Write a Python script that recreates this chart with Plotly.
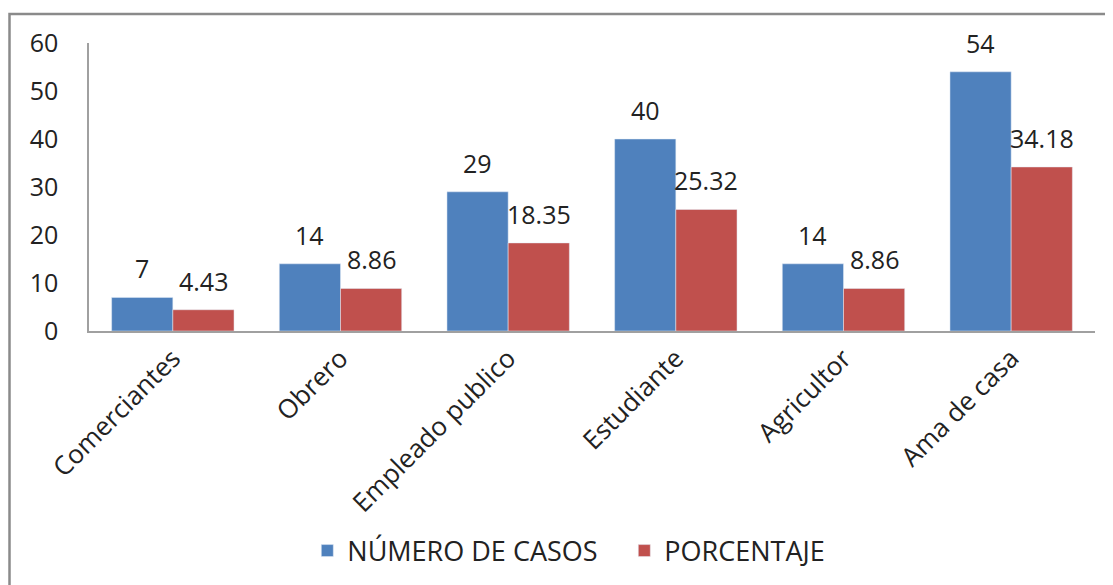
import plotly.graph_objects as go

categorias = ["Comerciantes", "Obrero", "Empleado publico", "Estudiante", "Agricultor", "Ama de casa"]
numero_casos = [7, 14, 29, 40, 14, 54]
porcentaje = [4.43, 8.86, 18.35, 25.32, 8.86, 34.18]

FONT = "Open Sans, Noto Sans, sans-serif"
AZUL = "#4f81bd"
ROJO = "#c0504d"

# figure size (page body has an 8px margin) and plot area margins
W, H = 1105, 577
L, R, T, B = 81, 18, 35, 254
pw, ph = W - L - R, H - T - B
BARGAP = 0.27
half_bar = pw / len(categorias) * (1 - BARGAP) / 4  # offset from category centre to bar centre

fig = go.Figure()
fig.add_trace(go.Bar(x=categorias, y=numero_casos, name="NÚMERO DE CASOS",
                     marker=dict(color=AZUL)))
fig.add_trace(go.Bar(x=categorias, y=porcentaje, name="PORCENTAJE",
                     marker=dict(color=ROJO)))

# data labels, Excel style (sit a bit above the bar)
for cat, n, p in zip(categorias, numero_casos, porcentaje):
    fig.add_annotation(x=cat, y=n, text=str(n), showarrow=False, yanchor="bottom",
                       xshift=-half_bar, yshift=10, font=dict(size=25, color="#222"))
    fig.add_annotation(x=cat, y=p, text=f"{p:.2f}", showarrow=False, yanchor="bottom",
                       xshift=half_bar, yshift=10, font=dict(size=25, color="#222"))

# outer chart frame
fig.add_shape(
    type="rect", xref="paper", yref="paper",
    x0=(1.5 - L) / pw, x1=(W + 5 - L) / pw,
    y0=-(H + 5 - T - ph) / ph, y1=(ph + T - 6) / ph,
    line=dict(color="#8a8a8a", width=2.5), layer="below",
)

fig.update_layout(
    width=W, height=H,
    margin=dict(l=L, r=R, t=T, b=B, autoexpand=False),
    paper_bgcolor="white", plot_bgcolor="white",
    barmode="group", bargap=BARGAP, bargroupgap=0,
    font=dict(family=FONT, color="#222"),
    showlegend=True,
    legend=dict(orientation="h", x=0.217, xanchor="left", y=-0.764, yanchor="middle",
                font=dict(size=27), itemwidth=30, entrywidth=272, traceorder="normal"),
)
fig.update_yaxes(
    range=[0, 60], dtick=10, showgrid=False, zeroline=False, automargin=False,
    showline=True, linecolor="#a0a0a0", linewidth=1.5,
    ticks="", tickfont=dict(size=25, color="#222"), ticklabelstandoff=24,
)
fig.update_xaxes(
    automargin=False,
    showline=True, linecolor="#a0a0a0", linewidth=1.5,
    ticks="", tickangle=-45, tickfont=dict(size=26, color="#222"),
)

fig.write_html("out.html")
